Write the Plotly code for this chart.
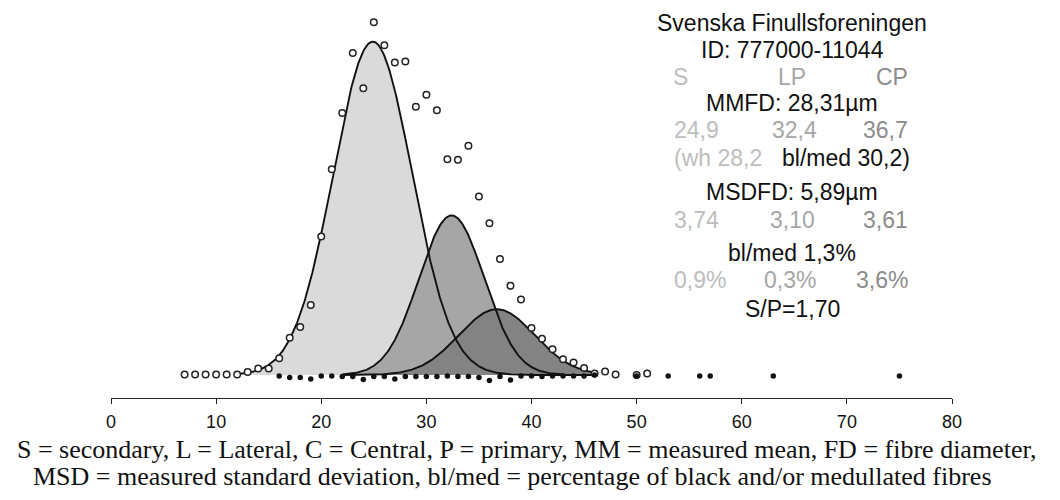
import numpy as np
import plotly.graph_objects as go

# ---------------- data ----------------
# open circles: measured fibre-diameter distribution (% of fibres per 1 µm class)
diam_classes = [7, 8, 9, 10, 11, 12, 13, 14, 15, 16, 17, 18, 19, 20, 21, 22, 23, 24, 25,
                26, 27, 28, 29, 30, 31, 32, 33, 34, 35, 36, 37, 38, 39, 40, 41, 42, 43,
                44, 45, 46, 47, 48, 50, 51]
diam_pct = [0.01, 0.01, 0.01, 0.01, 0.01, 0.01, 0.06, 0.13, 0.13, 0.34, 0.75, 0.97, 1.41,
            2.79, 4.15, 5.28, 6.49, 5.78, 7.11, 6.65, 6.30, 6.32, 5.41, 5.65, 5.34, 4.35,
            4.34, 4.62, 3.60, 3.06, 2.34, 1.80, 1.52, 0.95, 0.73, 0.52, 0.32, 0.25, 0.14,
            0.03, 0.07, 0.01, 0.00, 0.03]

# filled dots: black / medullated fibres
blmed_classes = [16, 17, 18, 19, 20, 21, 22, 23, 24, 25, 26, 27, 28, 29, 30, 31, 32, 33,
                 34, 35, 36, 37, 38, 39, 40, 41, 42, 43, 44, 45, 46, 50, 53, 56, 57, 63, 75]
blmed_y = [-0.02, -0.05, -0.05, -0.08, -0.02, -0.02, -0.03, -0.03, -0.09, -0.03, -0.03,
           -0.08, -0.03, -0.03, -0.03, -0.03, -0.02, -0.03, -0.03, -0.05, -0.11, -0.03,
           -0.10, -0.02, -0.02, -0.03, -0.02, -0.02, -0.02, -0.02, 0.00, -0.02, -0.02,
           -0.02, -0.02, -0.02, -0.02]

# fitted fibre populations (S = secondary, LP = lateral primary, CP = central primary)
comp_names = ["S", "LP", "CP"]
comp_mean = [24.9, 32.4, 36.7]
comp_sd = [3.74, 3.10, 3.61]
comp_share = [63.0, 25.0, 12.0]     # % of fibres
comp_from = [12.0, 22.0, 22.0]
comp_to = [46.0, 46.0, 46.0]

x_ticks = [0, 10, 20, 30, 40, 50, 60, 70, 80]

# ---------------- layout constants ----------------
W, H = 1060, 500
ML, MR, MT, MB = 111, 108, 5, 102
PW, PH = W - ML - MR, H - MT - MB
PX_PER_PCT = 49.6
BASE_GAP = 23  # px between zero line and x axis
y_lo = -BASE_GAP / PX_PER_PCT
y_hi = (PH - BASE_GAP) / PX_PER_PCT

fill_cols = ["#dadada", "#a6a6a6", "#838383"]

fig = go.Figure()

curves = []
for m, s, a, x0, x1 in zip(comp_mean, comp_sd, comp_share, comp_from, comp_to):
    xs = np.linspace(x0, x1, 400)
    ys = a / (s * np.sqrt(2 * np.pi)) * np.exp(-0.5 * ((xs - m) / s) ** 2)
    curves.append((xs, ys))

for (xs, ys), col, nm in zip(curves, fill_cols, comp_names):
    fig.add_trace(go.Scatter(x=xs, y=ys, mode="lines", fill="tozeroy",
                             fillcolor=col, line=dict(width=0), name=nm,
                             hoverinfo="skip", showlegend=False))
for (xs, ys), nm in zip(curves, comp_names):
    fig.add_trace(go.Scatter(x=xs, y=ys, mode="lines",
                             line=dict(color="#111111", width=1.9), name=nm,
                             showlegend=False))

fig.add_trace(go.Scatter(x=diam_classes, y=diam_pct, mode="markers",
                         marker=dict(symbol="circle", size=6.5, color="white",
                                     line=dict(color="#222222", width=1.5)),
                         showlegend=False, name="distribution"))
fig.add_trace(go.Scatter(x=blmed_classes, y=blmed_y, mode="markers",
                         marker=dict(symbol="circle", size=5.5, color="#111111"),
                         showlegend=False, name="bl/med"))


def px_x(px):
    return (px - ML) / PW


def px_y(py):
    return (MT + PH - py) / PH


FONT = "Liberation Sans, Arial, sans-serif"
TS = 23
BLACK = "#111111"
C_S, C_LP, C_CP = "#bdbdbd", "#a6a6a6", "#8c8c8c"

ann = []


def txt(t, px, py, color=BLACK, anchor="center", size=TS, font=FONT):
    ann.append(dict(text=t, x=px_x(px), y=px_y(py), xref="paper", yref="paper",
                    xanchor=anchor, yanchor="middle", showarrow=False,
                    font=dict(family=font, size=size, color=color)))


CX, LX, RX = 792, 672, 910
txt("Svenska Finullsforeningen", CX, 23)
txt("ID: 777000-11044", CX, 50)
txt("S", 680, 77, C_S)
txt("LP", CX, 77, C_LP)
txt("CP", RX, 77, C_CP, "right")
txt("MMFD: 28,31µm", CX, 103)
txt("24,9", LX, 130, C_S, "left")
txt("32,4", 794, 130, C_LP)
txt("36,7", RX, 130, C_CP, "right")
txt("(wh 28,2", LX, 158, C_S, "left")
txt("bl/med 30,2)", 912, 158, BLACK, "right")
txt("MSDFD: 5,89µm", CX, 192)
txt("3,74", LX, 220, C_S, "left")
txt("3,10", 792, 220, C_LP)
txt("3,61", RX, 220, C_CP, "right")
txt("bl/med 1,3%", CX, 253)
txt("0,9%", LX, 280, C_S, "left")
txt("0,3%", 790, 280, C_LP)
txt("3,6%", RX, 280, C_CP, "right")
txt("S/P=1,70", CX, 309)

SERIF = "Liberation Serif, Times New Roman, serif"
txt("S = secondary, L = Lateral, C = Central, P = primary, MM = measured mean, FD = fibre diameter,",
    527, 449, BLACK, "center", 26, SERIF)
txt("MSD = measured standard deviation, bl/med = percentage of black and/or medullated fibres",
    512, 476, BLACK, "center", 26, SERIF)

fig.update_layout(
    width=W, height=H,
    margin=dict(l=ML, r=MR, t=MT, b=MB),
    paper_bgcolor="white", plot_bgcolor="white",
    annotations=ann,
    showlegend=False,
    xaxis=dict(range=[0, 80], tickvals=x_ticks, ticktext=[str(v) for v in x_ticks],
               showline=True, linecolor="#222222", linewidth=1,
               ticks="outside", ticklen=5, tickcolor="#222222",
               showgrid=False, zeroline=False, ticklabelstandoff=2,
               tickfont=dict(family=FONT, size=18, color=BLACK)),
    yaxis=dict(range=[y_lo, y_hi], visible=False, showgrid=False, zeroline=False),
)

fig.write_html("out.html")
